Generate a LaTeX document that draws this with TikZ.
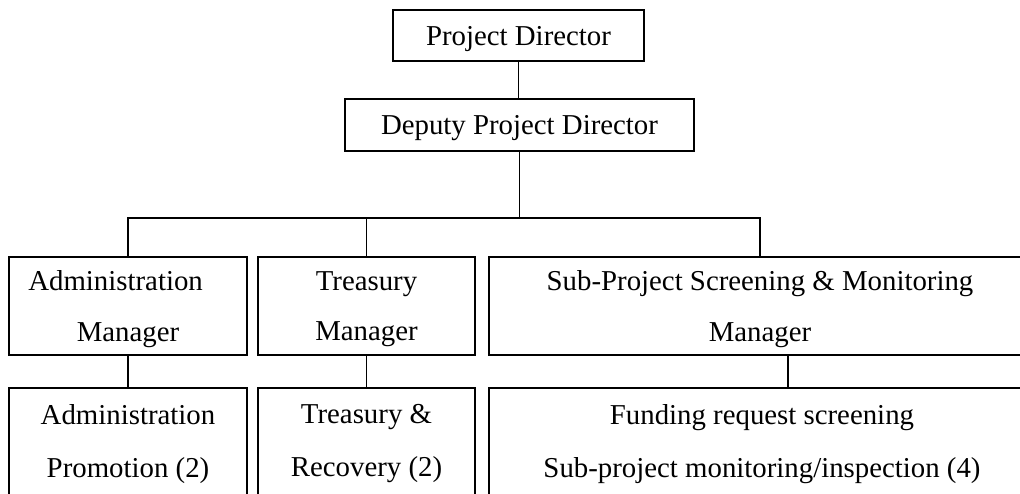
\documentclass[tikz,border=0pt]{standalone}
\usepackage{fontspec}
\setmainfont{Liberation Serif}
\tikzset{
  box/.style={draw,line width=1.2pt,align=center,inner sep=0pt},
  post/.style={box,text depth=0pt,font=\fontsize{20.5}{35.6}\selectfont},
  team/.style={box,font=\fontsize{20.5}{37.7}\selectfont},
  link/.style={line width=1.2pt}
}
\begin{document}
\begin{tikzpicture}
	\clip (0,0) rectangle (25.5,12.325);
	\fill[white] (0,0) rectangle (25.5,12.325);
	% top of the chart
	\node[post,minimum width=6.275cm,minimum height=1.275cm] (pd) at (12.9625,11.4375) {Project Director};
	\node[post,minimum width=8.725cm,minimum height=1.3cm] (dpd) at (12.9875,9.2) {Deputy Project Director};
	\coordinate (bus) at (0,6.875);
	
	% managers
	\node[post,minimum width=5.95cm,minimum height=2.45cm] (adminMgr) at (3.2,4.675) {Administration\hspace*{0.62cm}\\Manager};
	\node[post,minimum width=5.425cm,minimum height=2.45cm] (treasMgr) at (9.1625,4.675) {Treasury\\Manager};
	\node[post,minimum width=13.55cm,minimum height=2.45cm] (subMgr) at (19,4.675) {Sub-Project Screening \& Monitoring\\Manager};
	
	% teams
	\node[team,minimum width=5.95cm,minimum height=2.8cm] (adminTeam) at (3.2,1.225) {Administration\\Promotion (2)};
	\node[team,minimum width=5.425cm,minimum height=2.8cm] (treasTeam) at (9.1625,1.225) {Treasury \&\\Recovery (2)};
	\node[team,minimum width=13.65cm,minimum height=2.8cm] (subTeam) at (19.05,1.225) {Funding request screening\\Sub-project monitoring/inspection (4)};
	
	\draw[link] (pd.south)--(pd.south |- dpd.north);
	\draw[link] (dpd.south)--(dpd.south |- bus);
	\draw[link] (adminMgr.north)--(adminMgr.north |- bus)-|(subMgr.north);
	\draw[link] (treasMgr.north)--(treasMgr.north |- bus);
	\foreach \m/\t in {adminMgr/adminTeam,treasMgr/treasTeam}
	\draw[link] (\m.south)--(\m.south |- \t.north);
	\draw[link] ([xshift=0.7cm]subMgr.south)--([xshift=0.7cm]subMgr.south |- subTeam.north);
\end{tikzpicture}
\end{document}
